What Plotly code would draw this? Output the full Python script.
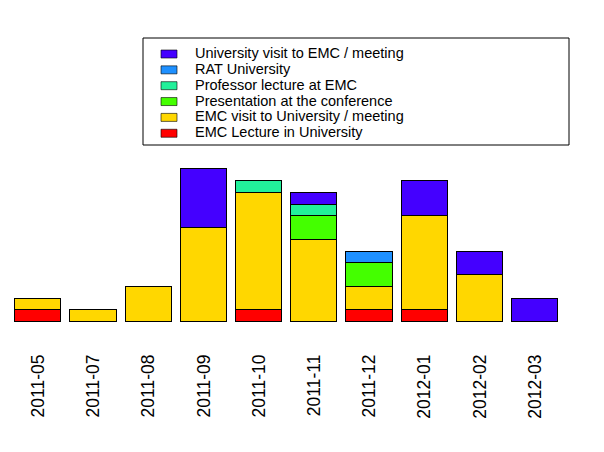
import plotly.graph_objects as go

categories = ["2011-05", "2011-07", "2011-08", "2011-09", "2011-10",
              "2011-11", "2011-12", "2012-01", "2012-02", "2012-03"]

emc_lecture = [1, 0, 0, 0, 1, 0, 1, 1, 0, 0]
emc_visit = [1, 1, 3, 8, 10, 7, 2, 8, 4, 0]
presentation = [0, 0, 0, 0, 0, 2, 2, 0, 0, 0]
professor_lecture = [0, 0, 0, 0, 1, 1, 0, 0, 0, 0]
rat_university = [0, 0, 0, 0, 0, 0, 1, 0, 0, 0]
university_visit = [0, 0, 0, 5, 0, 1, 0, 3, 2, 2]

series = [
    ("EMC Lecture in University", emc_lecture, "#FF0000"),
    ("EMC visit to University / meeting", emc_visit, "#FFD700"),
    ("Presentation at the conference", presentation, "#44FF00"),
    ("Professor lecture at EMC", professor_lecture, "#22F09A"),
    ("RAT University", rat_university, "#1E90FF"),
    ("University visit to EMC / meeting", university_visit, "#4400FF"),
]

xpos = list(range(len(categories)))

fig = go.Figure()
for name, vals, color in series:
    fig.add_trace(go.Bar(
        x=xpos,
        y=[v if v else None for v in vals],
        name=name,
        width=0.84,
        marker=dict(color=color, line=dict(color="black", width=1)),
        showlegend=False,
    ))

W, PH = 604, 322
unit_px = 55.2
x0_px = 38.3


def px(x):
    return x / W


def py(y):
    return 1 - y / PH


# legend drawn in R style: boxed, compact rows, top entry = last series
row_top = 54.0
row_step = 15.85
for i, (name, vals, color) in enumerate(reversed(series)):
    cy = row_top + i * row_step
    fig.add_shape(type="rect", xref="paper", yref="paper",
                  x0=px(161), x1=px(177), y0=py(cy + 4), y1=py(cy - 4),
                  line=dict(color="rgba(0,0,0,0.6)", width=1), fillcolor=color)
    fig.add_annotation(xref="paper", yref="paper", x=px(193), y=py(cy - 1),
                       xanchor="left", yanchor="middle", text=name,
                       showarrow=False, font=dict(size=14.5, color="black"))

fig.add_shape(type="rect", xref="paper", yref="paper",
              x0=px(143), x1=px(569), y0=py(145), y1=py(38),
              line=dict(color="black", width=1), fillcolor="rgba(0,0,0,0)")

fig.update_layout(
    width=604, height=452,
    margin=dict(l=0, r=0, t=0, b=130),
    barmode="stack",
    plot_bgcolor="white",
    paper_bgcolor="white",
    font=dict(family="Liberation Sans, Arial, sans-serif", color="black"),
    showlegend=False,
    xaxis=dict(
        range=[-x0_px / unit_px, (604 - x0_px) / unit_px],
        tickmode="array", tickvals=xpos, ticktext=categories,
        tickangle=-90, ticks="", showline=False, showgrid=False,
        zeroline=False, tickfont=dict(size=17.5),
        ticklabelstandoff=28,
    ),
    yaxis=dict(
        range=[0, 322 / 11.75], showticklabels=False, showgrid=False,
        zeroline=False, showline=False, ticks="",
    ),
    bargap=0,
)

fig.write_html("out.html")
